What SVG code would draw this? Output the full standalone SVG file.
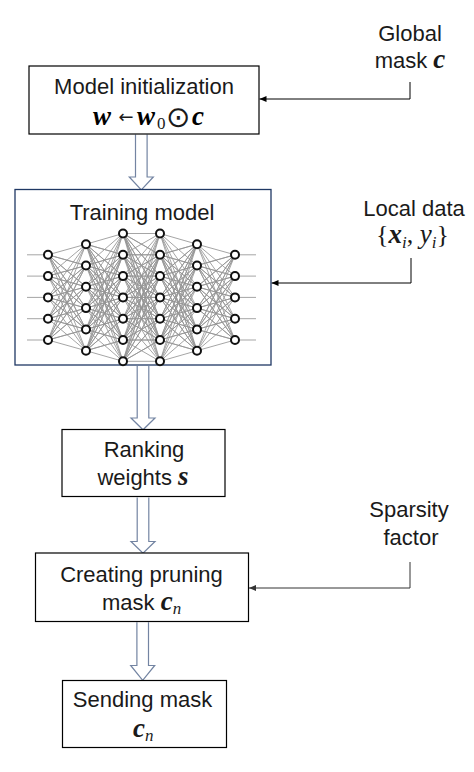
<svg xmlns="http://www.w3.org/2000/svg" xmlns:xlink="http://www.w3.org/1999/xlink" width="474" height="772" viewBox="0 0 474 772">
<defs>
<style>
.box{fill:#fff;stroke:#000;stroke-width:1.2}
.box2{fill:#fff;stroke:#1f3864;stroke-width:1.3}
.t{font-family:"Liberation Sans",Arial,sans-serif;font-size:22px;fill:#1a1a1a;text-anchor:middle}
.ts{font-family:"Liberation Sans",Arial,sans-serif;font-size:22px;fill:#1a1a1a}
.m{font-family:"Liberation Serif","Times New Roman",serif;font-weight:bold;font-style:italic;font-size:27px}
.mi{font-family:"Liberation Serif","Times New Roman",serif;font-style:italic;font-size:27px}
.mr{font-family:"Liberation Serif","Times New Roman",serif;font-size:26px;fill:#1a1a1a}
.sub{font-size:17px}
.sym{font-family:"DejaVu Sans",sans-serif;fill:#1a1a1a}
.blk{fill:#fff;stroke:#7384a2;stroke-width:1.2}
.con{fill:none;stroke:#000;stroke-width:1}
.net{fill:none;stroke:#959595;stroke-width:0.85;stroke-linejoin:round}
.nd{fill:#fff;stroke:#111;stroke-width:2}
</style>
<marker id="ah" markerUnits="userSpaceOnUse" markerWidth="8" markerHeight="6" refX="7" refY="3" orient="auto">
<path d="M0 0L7 3L0 6z" fill="#000"/>
</marker>
<marker id="ah2" markerUnits="userSpaceOnUse" markerWidth="8" markerHeight="6" refX="7" refY="3" orient="auto">
<path d="M0 0L7 3L0 6z" fill="#333"/>
</marker>
</defs>
<rect width="474" height="772" fill="#fff"/>

<g id="connectors">
<path class="con" d="M410 82V99H259.5" marker-end="url(#ah)"/>
<path class="con" d="M411 258V283H271.5" marker-end="url(#ah)"/>
<path class="con" style="stroke:#333" d="M410 562V588H249" marker-end="url(#ah2)"/>
<path class="blk" d="M135.5 134.6V177H129.3L141.3 189.8L153.3 177H147.1V134.6"/>
<path class="blk" d="M137.2 366V418H131L143 429.8L155 418H148.8V366"/>
<path class="blk" d="M137.2 497.4V541.5H131L143 553.2L155 541.5H148.8V497.4"/>
<path class="blk" d="M136.9 622.2V665.5H130.7L142.7 680.3L154.7 665.5H148.5V622.2"/>
</g>

<g id="n-init">
<rect class="box" x="29" y="66" width="230" height="68"/>
<text class="t" x="144" y="94">Model initialization</text>
<text class="m" x="93" y="125">w</text>
<text class="sym" x="118.5" y="123" font-size="18">←</text>
<text class="m" x="137" y="125">w</text>
<text class="mr sub" x="157" y="128.5">0</text>
<text class="sym" x="166" y="126.5" font-size="29">⊙</text>
<text class="m" x="192" y="125">c</text>
</g>

<g id="n-global">
<text class="t" x="410" y="41">Global</text>
<text class="t" x="410" y="68">mask <tspan class="m">c</tspan></text>
</g>

<g id="n-train">
<rect class="box2" x="15" y="189.5" width="256" height="175.5"/>
<text class="t" x="142" y="220">Training model</text>
<g id="half">
<path class="net" d="M27 254.8H48M27 276.1H48M27 297.4H48M27 318.7H48M27 340H48
M86 244.2 48 254.8 86 265.5 48 254.8 86 286.8 48 254.8 86 308.1 48 254.8 86 329.4 48 254.8 86 350.7
M86 244.2 48 276.1 86 265.5 48 276.1 86 286.8 48 276.1 86 308.1 48 276.1 86 329.4 48 276.1 86 350.7
M86 244.2 48 297.4 86 265.5 48 297.4 86 286.8 48 297.4 86 308.1 48 297.4 86 329.4 48 297.4 86 350.7
M86 244.2 48 318.7 86 265.5 48 318.7 86 286.8 48 318.7 86 308.1 48 318.7 86 329.4 48 318.7 86 350.7
M86 244.2 48 340 86 265.5 48 340 86 286.8 48 340 86 308.1 48 340 86 329.4 48 340 86 350.7
M123 233.5 86 244.2 123 254.8 86 244.2 123 276.1 86 244.2 123 297.4 86 244.2 123 318.7 86 244.2 123 340 86 244.2 123 361.3
M123 233.5 86 265.5 123 254.8 86 265.5 123 276.1 86 265.5 123 297.4 86 265.5 123 318.7 86 265.5 123 340 86 265.5 123 361.3
M123 233.5 86 286.8 123 254.8 86 286.8 123 276.1 86 286.8 123 297.4 86 286.8 123 318.7 86 286.8 123 340 86 286.8 123 361.3
M123 233.5 86 308.1 123 254.8 86 308.1 123 276.1 86 308.1 123 297.4 86 308.1 123 318.7 86 308.1 123 340 86 308.1 123 361.3
M123 233.5 86 329.4 123 254.8 86 329.4 123 276.1 86 329.4 123 297.4 86 329.4 123 318.7 86 329.4 123 340 86 329.4 123 361.3
M123 233.5 86 350.7 123 254.8 86 350.7 123 276.1 86 350.7 123 297.4 86 350.7 123 318.7 86 350.7 123 340 86 350.7 123 361.3"/>
</g>
<use xlink:href="#half" href="#half" transform="translate(283 0) scale(-1 1)"/>
<path class="net" d="M160 233.5 123 233.5 160 254.8 123 233.5 160 276.1 123 233.5 160 297.4 123 233.5 160 318.7 123 233.5 160 340 123 233.5 160 361.3
M160 233.5 123 254.8 160 254.8 123 254.8 160 276.1 123 254.8 160 297.4 123 254.8 160 318.7 123 254.8 160 340 123 254.8 160 361.3
M160 233.5 123 276.1 160 254.8 123 276.1 160 276.1 123 276.1 160 297.4 123 276.1 160 318.7 123 276.1 160 340 123 276.1 160 361.3
M160 233.5 123 297.4 160 254.8 123 297.4 160 276.1 123 297.4 160 297.4 123 297.4 160 318.7 123 297.4 160 340 123 297.4 160 361.3
M160 233.5 123 318.7 160 254.8 123 318.7 160 276.1 123 318.7 160 297.4 123 318.7 160 318.7 123 318.7 160 340 123 318.7 160 361.3
M160 233.5 123 340 160 254.8 123 340 160 276.1 123 340 160 297.4 123 340 160 318.7 123 340 160 340 123 340 160 361.3
M160 233.5 123 361.3 160 254.8 123 361.3 160 276.1 123 361.3 160 297.4 123 361.3 160 318.7 123 361.3 160 340 123 361.3 160 361.3"/>
<g id="nodes">
<circle class="nd" cx="48" cy="254.8" r="4"/><circle class="nd" cx="48" cy="276.1" r="4"/><circle class="nd" cx="48" cy="297.4" r="4"/><circle class="nd" cx="48" cy="318.7" r="4"/><circle class="nd" cx="48" cy="340" r="4"/>
<circle class="nd" cx="86" cy="244.2" r="4"/><circle class="nd" cx="86" cy="265.5" r="4"/><circle class="nd" cx="86" cy="286.8" r="4"/><circle class="nd" cx="86" cy="308.1" r="4"/><circle class="nd" cx="86" cy="329.4" r="4"/><circle class="nd" cx="86" cy="350.7" r="4"/>
<circle class="nd" cx="123" cy="233.5" r="4"/><circle class="nd" cx="123" cy="254.8" r="4"/><circle class="nd" cx="123" cy="276.1" r="4"/><circle class="nd" cx="123" cy="297.4" r="4"/><circle class="nd" cx="123" cy="318.7" r="4"/><circle class="nd" cx="123" cy="340" r="4"/><circle class="nd" cx="123" cy="361.3" r="4"/>
</g>
<use xlink:href="#nodes" href="#nodes" transform="translate(283 0) scale(-1 1)"/>
</g>

<g id="n-local">
<text class="t" x="414" y="216">Local data</text>
<text class="mr" x="412.5" y="243" text-anchor="middle" font-size="25">{<tspan class="m">x</tspan><tspan class="mi sub" dy="5">i</tspan><tspan dy="-5">,  </tspan><tspan class="mi">y</tspan><tspan class="mi sub" dy="5">i</tspan><tspan dy="-5">}</tspan></text>
</g>

<g id="n-rank">
<rect class="box" x="62" y="429.5" width="163" height="67"/>
<text class="t" x="144" y="457">Ranking</text>
<text class="t" x="143" y="485">weights <tspan class="m">s</tspan></text>
</g>

<g id="n-sparsity">
<text class="t" x="409" y="517">Sparsity</text>
<text class="t" x="411" y="545">factor</text>
</g>

<g id="n-create">
<rect class="box" x="35.5" y="553" width="213" height="68.5"/>
<text class="t" x="141.5" y="581.5">Creating pruning</text>
<text class="ts" x="102" y="610">mask <tspan class="m">c</tspan><tspan class="mi sub" dy="4">n</tspan></text>
</g>

<g id="n-send">
<rect class="box" x="62.5" y="680.5" width="164" height="67"/>
<text class="t" x="142.5" y="706.5">Sending mask</text>
<text class="mr" x="143.3" y="736.5" text-anchor="middle"><tspan class="m">c</tspan><tspan class="mi sub" dy="4">n</tspan></text>
</g>
</svg>
